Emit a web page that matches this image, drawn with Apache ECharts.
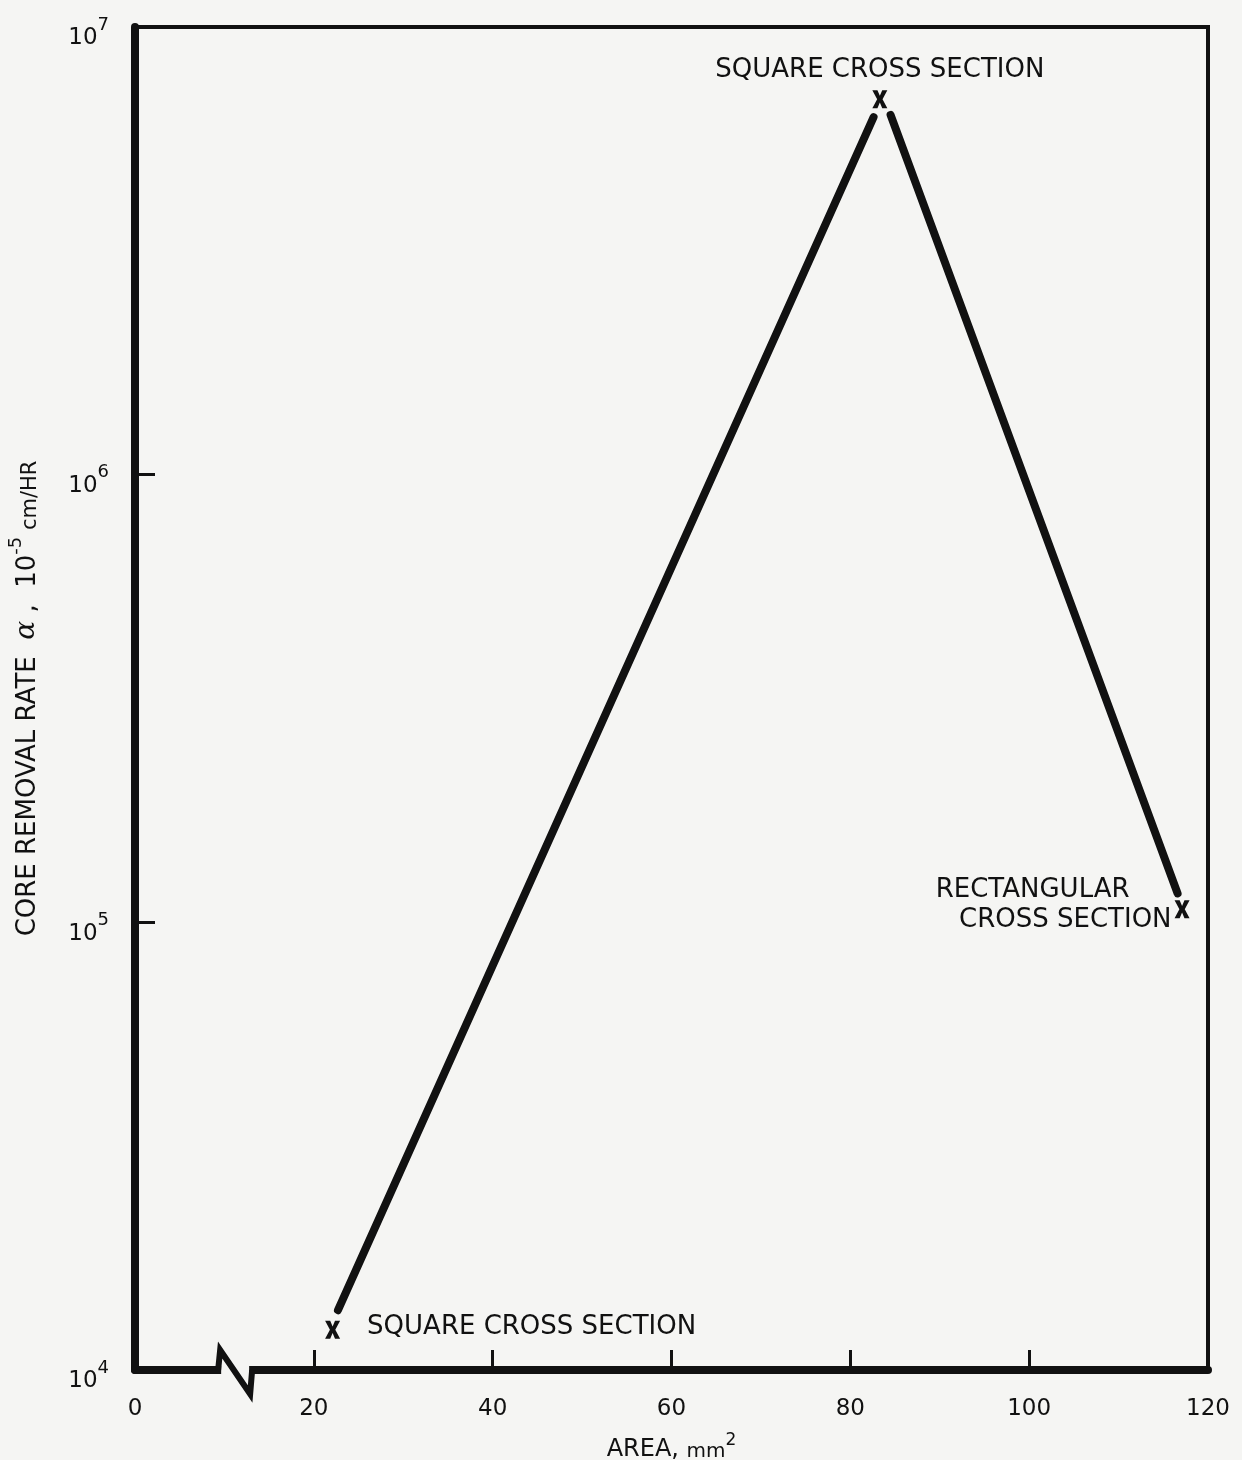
<!DOCTYPE html>
<html>
<head>
<meta charset="utf-8">
<script src="https://cdn.jsdelivr.net/npm/echarts@6/dist/echarts.min.js"></script>
<style>
  html, body { margin: 0; padding: 0; background: #f5f5f3; }
  #chart { width: 1242px; height: 1460px; }
</style>
</head>
<body>
<div id="chart"></div>
<script>
// values
const xTicks = [0, 20, 40, 60, 80, 100, 120]
const yDecades = [1e4, 1e5, 1e6, 1e7]

// the two drawn line segments (they stop short of the x marks)
const riseArea = [22.7, 82.6]
const riseRate = [1.36e4, 6.29e6]
const fallArea = [84.5, 116.6]
const fallRate = [6.36e6, 1.16e5]

// the measured points (x marks)
const markArea = [22.1, 83.3, 117.1]
const markRate = [1.23e4, 6.9e6, 1.07e5]
const markNames = ['SQUARE CROSS SECTION', 'SQUARE CROSS SECTION', 'RECTANGULAR\nCROSS SECTION']

const ink = '#111'
const bg = '#f5f5f3'
const font = 'DejaVu Sans'

// filled x glyph
const xSymbol = 'path://M0,0 L3.4,0 L5,3.8 L6.6,0 L10,0 L6.8,6 L10,12 L6.6,12 L5,8.2 L3.4,12 L0,12 L3.2,6 Z'

const chart = echarts.init(document.getElementById('chart'))

const pair = (xs, ys) => xs.map((x, i) => [x, ys[i]])

// label placement for each x mark
const markLabels = [
    { position: 'right', distance: 27, offset: [0, -3] },
    { position: 'top', distance: 7 },
    {
        position: 'left', distance: 3, offset: [0, -4], align: 'right',
        formatter: '{a|RECTANGULAR}\n{b|CROSS SECTION}',
        rich: {
            a: { fontFamily: font, fontSize: 26, color: ink, lineHeight: 30, padding: [0, 42, 0, 0] },
            b: { fontFamily: font, fontSize: 26, color: ink, lineHeight: 30 }
        }
    }
]

const option = {
    backgroundColor: bg,
    animation: false,
    grid: {
        left: 135, right: 34, top: 27, bottom: 90,
        outerBoundsMode: 'none',
        containLabel: false,
        show: true, borderColor: ink, borderWidth: 4, backgroundColor: 'transparent'
    },
    xAxis: {
        type: 'value',
        min: xTicks[0],
        max: xTicks[xTicks.length - 1],
        interval: 20,
        axisLine: { lineStyle: { color: ink, width: 8 } },
        axisTick: { inside: true, length: 20, lineStyle: { color: ink, width: 3 } },
        axisLabel: { color: ink, fontFamily: font, fontSize: 23, margin: 28 },
        splitLine: { show: false },
        name: '{t|AREA, }{u|mm}{s|2}',
        nameLocation: 'middle',
        nameGap: 62,
        nameTextStyle: {
            rich: {
                t: { fontFamily: font, fontSize: 24, color: ink, lineHeight: 30, verticalAlign: 'bottom' },
                u: { fontFamily: font, fontSize: 20, color: ink, lineHeight: 30, verticalAlign: 'bottom' },
                s: { fontFamily: font, fontSize: 17, color: ink, lineHeight: 17, verticalAlign: 'top' }
            }
        }
    },
    yAxis: {
        type: 'log',
        logBase: 10,
        min: yDecades[0],
        max: yDecades[yDecades.length - 1],
        axisLine: { lineStyle: { color: ink, width: 8 } },
        axisTick: { inside: true, length: 20, lineStyle: { color: ink, width: 3 } },
        minorTick: { show: false },
        splitLine: { show: false },
        axisLabel: {
            margin: 26,
            padding: [12, 0, 0, 0],
            formatter: v => '{b|10}{s|' + Math.round(Math.log10(v)) + '}',
            rich: {
                b: { fontFamily: font, fontSize: 23, color: ink, lineHeight: 34, verticalAlign: 'bottom' },
                s: { fontFamily: font, fontSize: 18, color: ink, lineHeight: 18, verticalAlign: 'top' }
            }
        },
        name: '{t|CORE REMOVAL RATE  }{a|α}{t| ,  10}{s|-5}{u| cm/HR}',
        nameLocation: 'middle',
        nameRotate: 90,
        nameGap: 94,
        nameTextStyle: {
            rich: {
                t: { fontFamily: font, fontSize: 26, color: ink, lineHeight: 34, verticalAlign: 'bottom' },
                a: { fontFamily: 'DejaVu Serif', fontStyle: 'italic', fontSize: 28, color: ink, lineHeight: 34, verticalAlign: 'bottom' },
                s: { fontFamily: font, fontSize: 18, color: ink, lineHeight: 18, verticalAlign: 'top' },
                u: { fontFamily: font, fontSize: 21, color: ink, lineHeight: 34, verticalAlign: 'bottom' }
            }
        }
    },
    series: [
        {
            type: 'line',
            data: pair(riseArea, riseRate),
            symbol: 'none',
            lineStyle: { color: ink, width: 8, cap: 'round' }
        },
        {
            type: 'line',
            data: pair(fallArea, fallRate),
            symbol: 'none',
            lineStyle: { color: ink, width: 8, cap: 'round' }
        },
        {
            type: 'scatter',
            symbol: xSymbol,
            symbolSize: [15, 18],
            itemStyle: { color: ink, opacity: 1 },
            data: markArea.map((x, i) => ({
                value: [x, markRate[i]],
                name: markNames[i],
                label: Object.assign({
                    show: true, formatter: '{b}', color: ink, opacity: 1,
                    fontFamily: font, fontSize: 26
                }, markLabels[i])
            }))
        }
    ]
}

chart.setOption(option)

// axis break mark on the x axis
const [cx, cy] = chart.convertToPixel({ gridIndex: 0 }, [11.2, yDecades[0]])
chart.setOption({
    graphic: [
        {
            type: 'rect',
            shape: { x: cx - 14, y: cy - 6, width: 28, height: 12 },
            style: { fill: bg },
            z: 100
        },
        {
            type: 'polyline',
            shape: { points: [[cx - 17, cy], [cx - 15, cy - 20], [cx + 15, cy + 24], [cx + 17, cy]] },
            style: { stroke: ink, lineWidth: 6, fill: null, lineJoin: 'miter' },
            z: 101
        }
    ]
})
</script>
</body>
</html>
